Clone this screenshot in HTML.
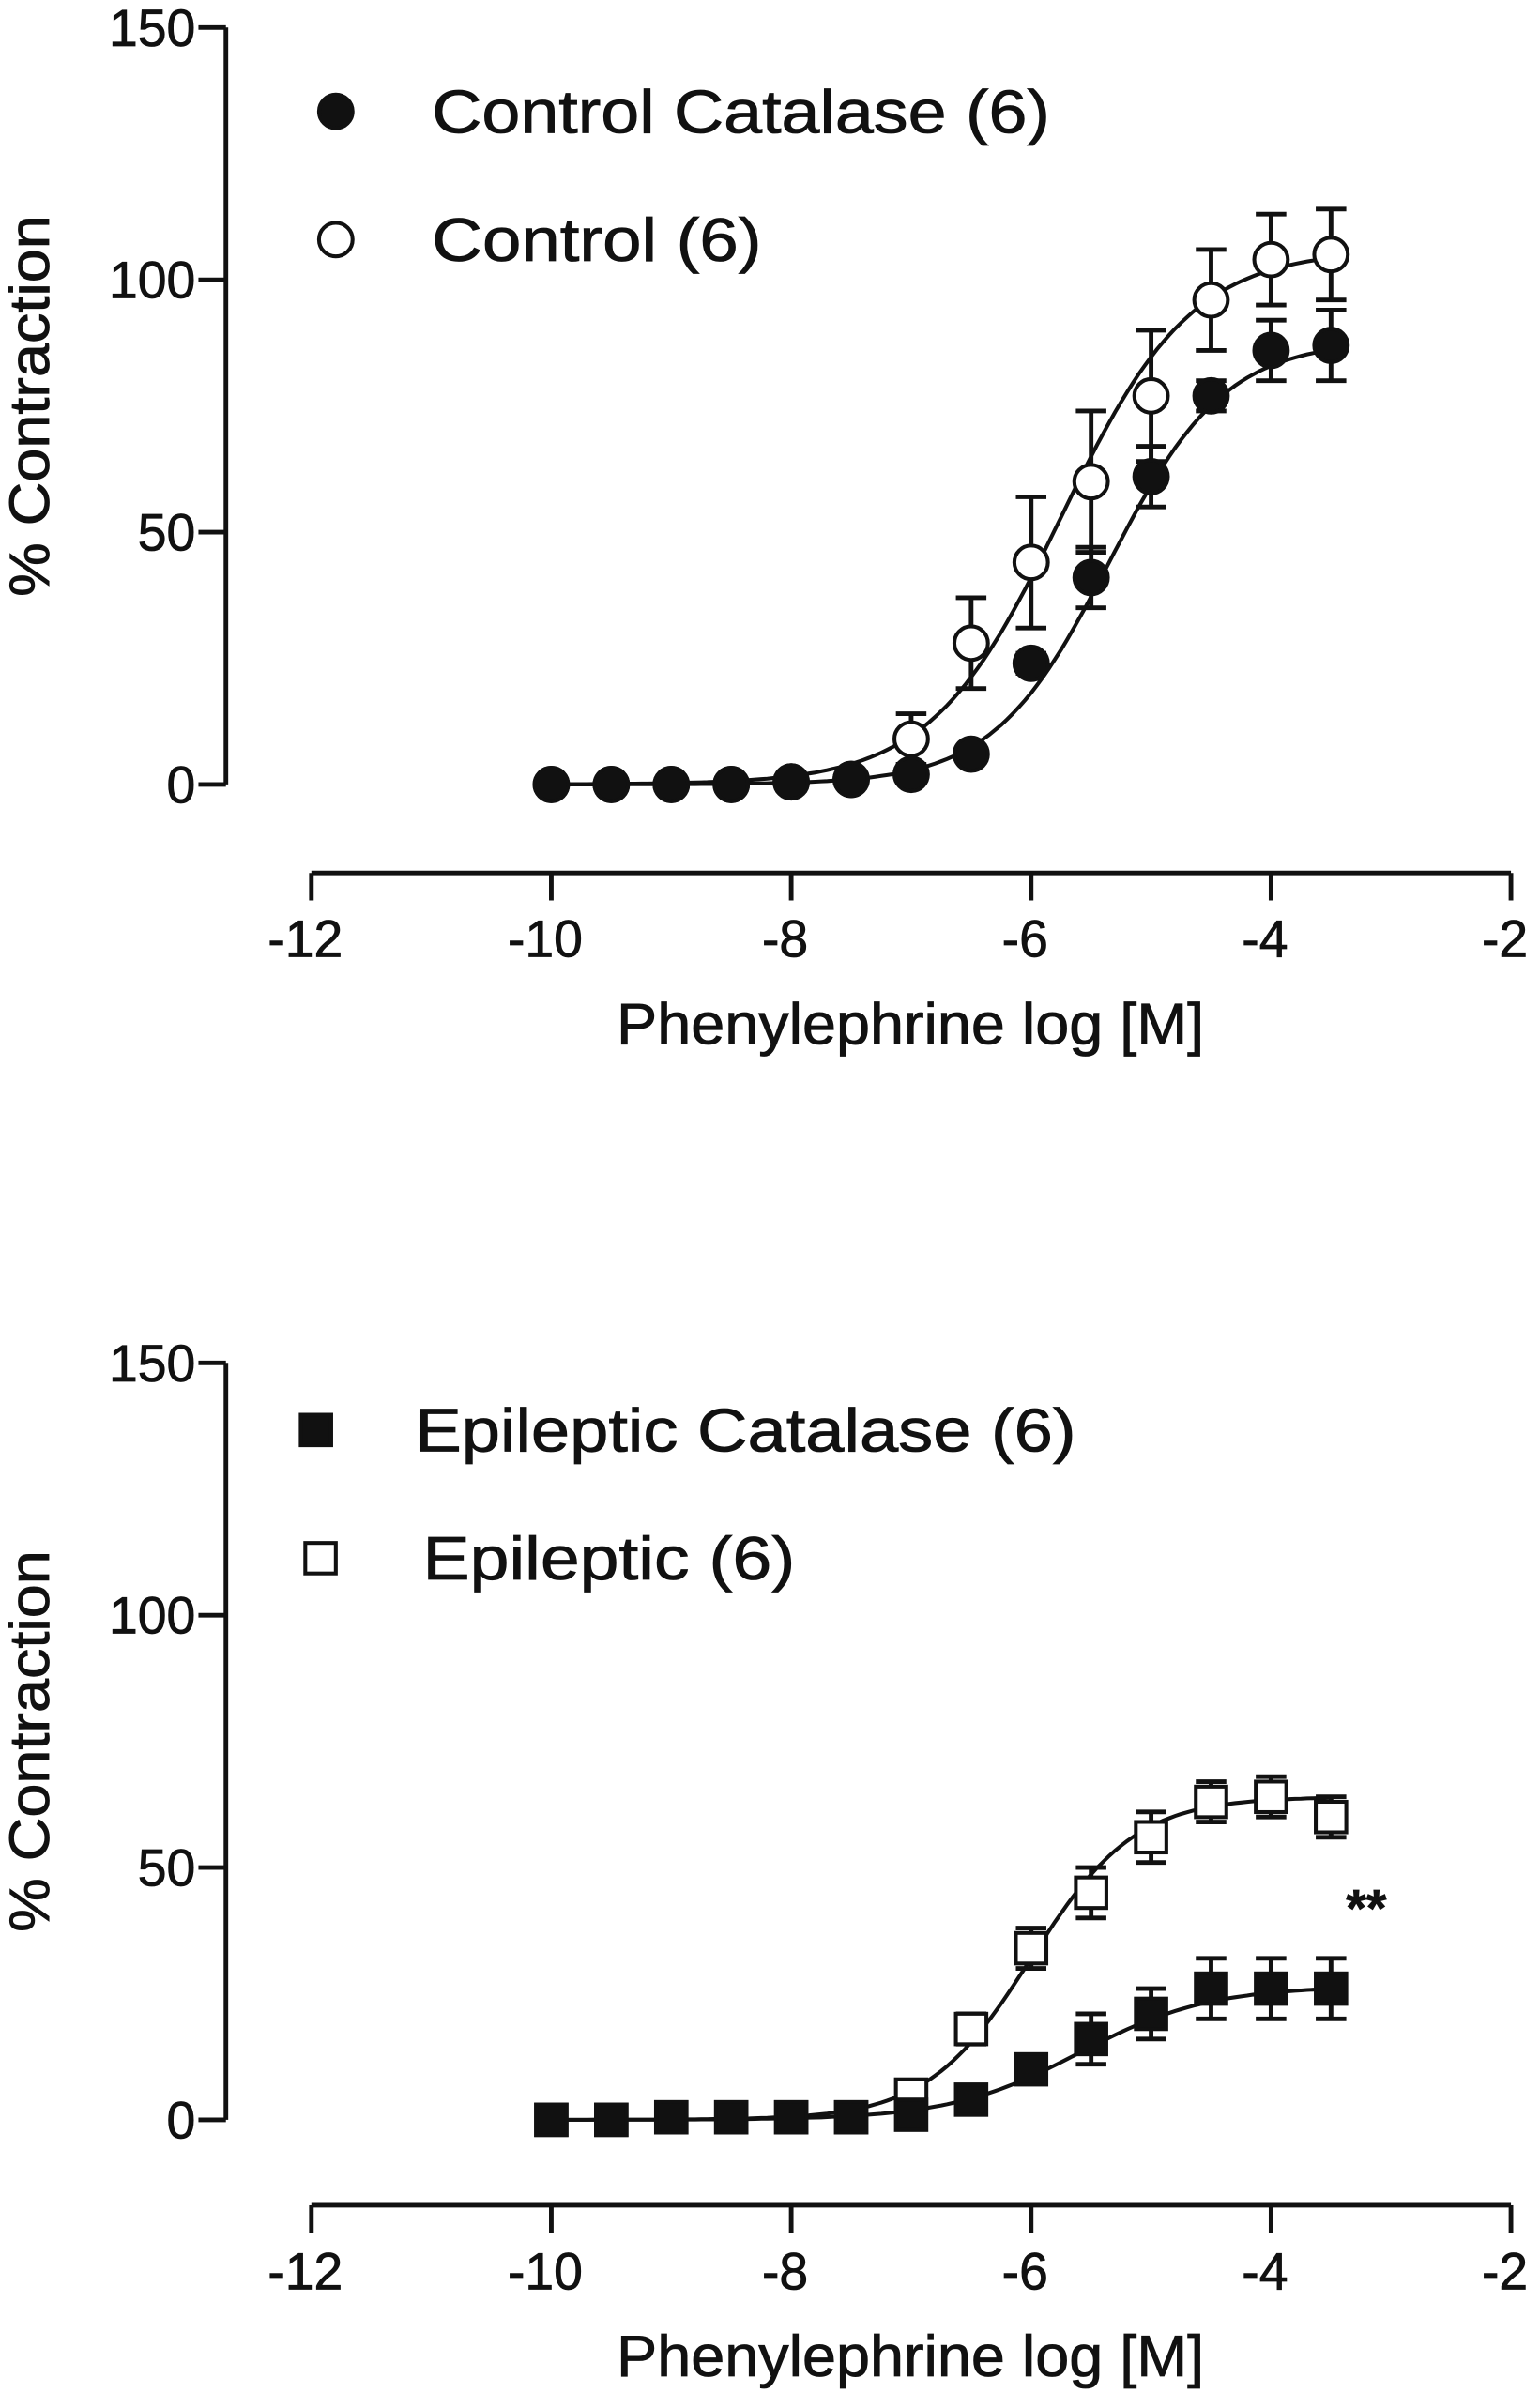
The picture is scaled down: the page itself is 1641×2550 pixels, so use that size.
<!DOCTYPE html>
<html><head><meta charset="utf-8"><style>html,body{margin:0;padding:0;background:#fff}svg{display:block}text{font-family:"Liberation Sans",Arial,sans-serif;fill:#111;stroke:#111;stroke-width:0.5}</style></head>
<body>
<svg id="chart" width="1641" height="2550" viewBox="0 0 1009 1568" xmlns="http://www.w3.org/2000/svg"></svg>
<script>
const doses = [-10,-9.5,-9,-8.5,-8,-7.5,-7,-6.5,-6,-5.5,-5,-4.5,-4,-3.5];
const ctrlCatMean = [0,0,0,0,0.5,1,2,6,24,41,61,77,86,87];
const ctrlCatErr  = [0,0,0,0,0,0.5,1,1,2,6,6,3,6,7];
const ctrlMean = [0,0,0,0,0.5,1,9,28,44,60,77,96,104,105];
const ctrlErr  = [0,0,0,0,0.5,1,5,9,13,14,13,10,9,9];
const epiCatMean = [0,0,0.5,0.5,0.5,0.5,1,4,10,16,21,26,26,26];
const epiCatErr  = [0,0,0,0,0,0,1,1,2,5,5,6,6,6];
const epiMean = [0,0,0.5,0.5,0.5,0.5,5,18,34,45,56,63,64,60];
const epiErr  = [0,0,0,0,0,0,1,3,4,5,5,4,4,4];
const xTicks = [-12,-10,-8,-6,-4,-2];
const yTicks = [0,50,100,150];
// fitted curve params [top, logEC50, hill]
const fitCtrlCat = [88,-5.35,0.9];
const fitCtrl = [106,-5.75,0.8];
const fitEpiCat = [26.5,-5.6,0.8];
const fitEpi = [64,-6.0,1.0];

const NS="http://www.w3.org/2000/svg";
const svg=document.getElementById('chart');
function mk(tag,attrs,parent){const e=document.createElementNS(NS,tag);for(const k in attrs)e.setAttribute(k,attrs[k]);(parent||svg).appendChild(e);return e;}

function panel(name,yTop,yZero,xAxisY,sOpen,sFilled,markerType,legend,extra){
  const g=mk('g',{});
  
  
  const xS=v=>204+(v+12)*78.6;
  const yS=v=>yZero-(v/150)*(yZero-yTop);
  const ya=mk('line',{x1:148,y1:yTop,x2:148,y2:yZero,stroke:'#111','stroke-width':3},g);
  
  yTicks.forEach(t=>{
    mk('line',{x1:130,x2:148,y1:yS(t),y2:yS(t),stroke:'#111','stroke-width':3},g);
    const tx=mk('text',{x:128,y:yS(t)+12,'text-anchor':'end','font-size':34},g);tx.textContent=t;
    
  });
  const yt=mk('text',{transform:`translate(32,${(yTop+yZero)/2}) rotate(-90)`,'text-anchor':'middle','font-size':37,textLength:250,lengthAdjust:'spacingAndGlyphs'},g);
  yt.textContent='% Contraction';
  
  const xa=mk('line',{x1:xS(-12),y1:xAxisY,x2:xS(-2),y2:xAxisY,stroke:'#111','stroke-width':3},g);
  
  xTicks.forEach(t=>{
    mk('line',{x1:xS(t),x2:xS(t),y1:xAxisY,y2:xAxisY+18,stroke:'#111','stroke-width':3},g);
    const tx=mk('text',{x:xS(t)-4,y:xAxisY+55,'text-anchor':'middle','font-size':34},g);tx.textContent=t;
    
  });
  const xt=mk('text',{x:404,y:xAxisY+112,'font-size':38,textLength:385,lengthAdjust:'spacingAndGlyphs'},g);
  xt.textContent='Phenylephrine log [M]';
  
  [sOpen,sFilled].forEach(s=>{
    let d='';const [top,ec,h]=s.fit;
    for(let v=-10;v<=-3.5001+0.02;v+=0.05){const y=top/(1+Math.pow(10,(ec-v)*h));d+=(d?'L':'M')+xS(v).toFixed(1)+','+yS(y).toFixed(1);}
    const c=mk('path',{d:d,fill:'none',stroke:'#111','stroke-width':2.5},g);
    
  });
  [sOpen,sFilled].forEach(s=>{
    doses.forEach((x,i)=>{
      const m=s.mean[i],e=s.err[i],cx=xS(x),cy=yS(m);
      if(e>0.8){
        const eb=mk('path',{d:`M${cx},${yS(m-e)}V${yS(m+e)}M${cx-10},${yS(m+e)}H${cx+10}M${cx-10},${yS(m-e)}H${cx+10}`,stroke:'#111','stroke-width':3,fill:'none'},g);
        
      }
      let p;
      const fill=s.filled?'#111':'#fff';
      if(markerType==='circle')p=mk('circle',{cx:cx,cy:cy,r:11,fill:fill,stroke:'#111','stroke-width':2.5},g);
      else p=mk('rect',{x:cx-10,y:cy-10,width:20,height:20,fill:fill,stroke:'#111','stroke-width':2.5},g);
      
    });
  });
  legend.forEach(l=>{
    let p;
    if(markerType==='circle')p=mk('circle',{cx:l.mx,cy:l.my,r:11,fill:l.filled?'#111':'#fff',stroke:'#111','stroke-width':2.5},g);
    else p=mk('rect',{x:l.mx-10,y:l.my-10,width:20,height:20,fill:l.filled?'#111':'#fff',stroke:'#111','stroke-width':2.5},g);
    
    const t=mk('text',{x:l.tx,y:l.my+14,'font-size':40,textLength:l.w,lengthAdjust:'spacingAndGlyphs'},g);t.textContent=l.text;
    
  });
  if(extra){const t=mk('text',{x:extra.x,y:extra.y,'font-size':34,'font-weight':'bold'},g);t.textContent=extra.t;
    }
}
panel('top-panel',18,514,572,
  {name:'control',mean:ctrlMean,err:ctrlErr,fit:fitCtrl,filled:false},
  {name:'control-catalase',mean:ctrlCatMean,err:ctrlCatErr,fit:fitCtrlCat,filled:true},'circle',
  [{mx:220,my:73,tx:283,w:405,text:'Control Catalase (6)',filled:true},{mx:220,my:157,tx:283,w:216,text:'Control (6)',filled:false}]);
panel('bottom-panel',893,1389,1445,
  {name:'epileptic',mean:epiMean,err:epiErr,fit:fitEpi,filled:false},
  {name:'epileptic-catalase',mean:epiCatMean,err:epiCatErr,fit:fitEpiCat,filled:true},'square',
  [{mx:207,my:937,tx:272,w:433,text:'Epileptic Catalase (6)',filled:true},{mx:210,my:1021,tx:277,w:244,text:'Epileptic (6)',filled:false}],
  {x:882,y:1262,t:'**'});
</script>
</body></html>
